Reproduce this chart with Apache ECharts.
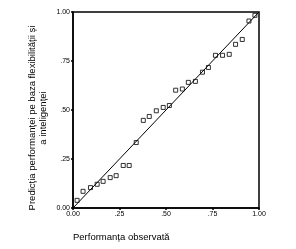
<!DOCTYPE html>
<html><head><meta charset="utf-8">
<script src="https://cdn.jsdelivr.net/npm/echarts@6/dist/echarts.min.js"></script>
<style>html,body{margin:0;padding:0;background:#fff}#c{width:296px;height:249px}</style>
</head><body><div id="c"></div>
<script>
const observed = [0.022,0.054,0.094,0.130,0.162,0.200,0.232,0.270,0.302,0.340,0.378,0.410,0.448,0.485,0.518,0.552,0.588,0.620,0.658,0.696,0.728,0.766,0.804,0.840,0.874,0.910,0.946,0.978];
const predicted = [0.039,0.085,0.104,0.121,0.136,0.155,0.165,0.217,0.217,0.334,0.447,0.467,0.496,0.513,0.523,0.601,0.607,0.641,0.646,0.693,0.717,0.779,0.779,0.784,0.835,0.860,0.954,0.983];
const refLine = [[0,0],[1,1]];
const tickValues = [0, 0.25, 0.5, 0.75, 1];
const xTitle = 'Performanța observată';
const yTitle = 'Predicția performanței pe baza flexibilității și\na inteligenței';

const fmt = v => v === 0 ? '0.00' : (v === 1 ? '1.00' : '.' + Math.round(v*100).toString().padStart(2,'0'));
const font = 'Liberation Sans, Arial, sans-serif';
const chart = echarts.init(document.getElementById('c'), null, {renderer:'canvas'});
const axisCommon = {
  min:0, max:1, interval:0.25,
  axisLine:{show:true, lineStyle:{color:'#000', width:1.5}},
  axisTick:{show:true, length:2, lineStyle:{color:'#000', width:1.5}},
  splitLine:{show:false},
  axisLabel:{formatter:fmt, fontSize:7, color:'#000', fontFamily:font, margin:3}
};
chart.setOption({
  animation:false,
  grid:{left:73, right:37, top:12, bottom:41, show:true, borderColor:'#000', borderWidth:1.5},
  xAxis:Object.assign({type:'value'}, axisCommon),
  yAxis:Object.assign({type:'value'}, axisCommon),
  graphic:[
    {type:'text', left:73, top:232, style:{text:xTitle, fontSize:9.5, fontFamily:font, fill:'#000'}},
    {type:'text', x:38, y:118, rotation:Math.PI/2,
     style:{text:yTitle, fontSize:9.5, fontFamily:font, fill:'#000', align:'center', verticalAlign:'middle', lineHeight:11}}
  ],
  series:[
    {type:'line', data:refLine, symbol:'none', lineStyle:{color:'#000', width:1}, silent:true},
    {type:'scatter', data:observed.map((x,i)=>[x, predicted[i]]), symbol:'rect', symbolSize:4,
     itemStyle:{color:'#fff', borderColor:'#000', borderWidth:1}}
  ]
});
</script></body></html>
